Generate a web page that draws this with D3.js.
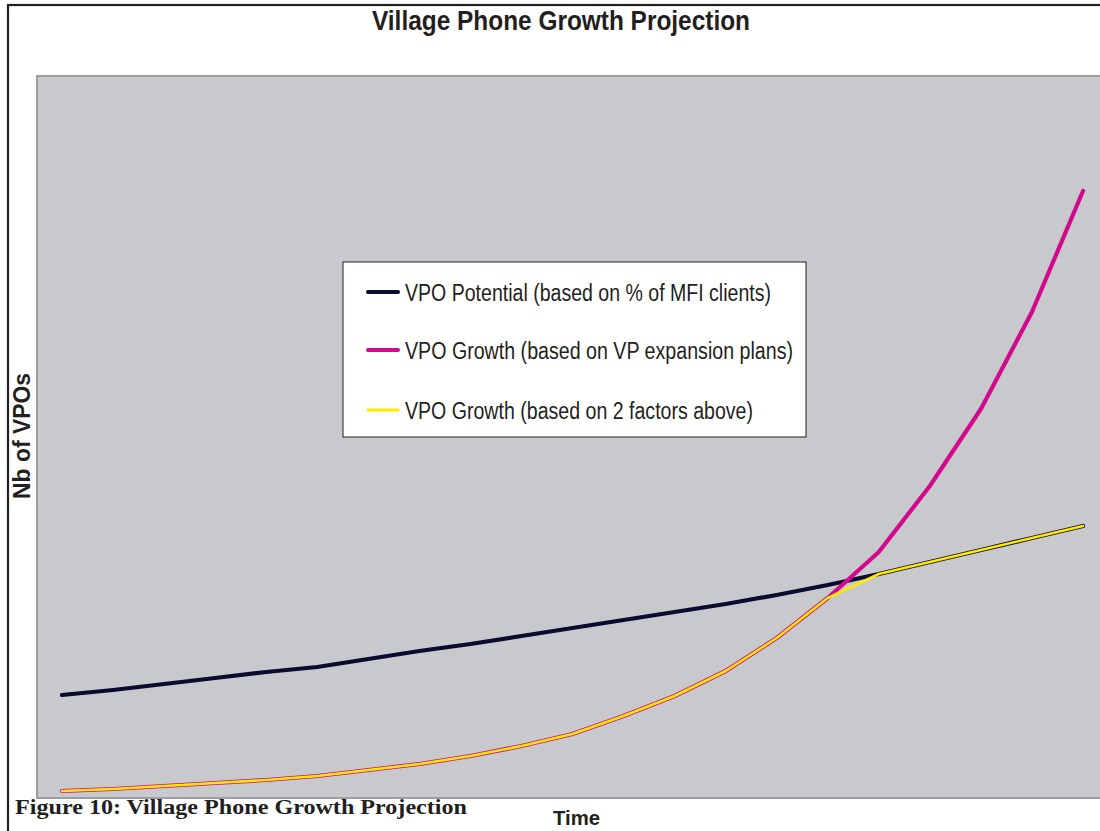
<!DOCTYPE html>
<html>
<head>
<meta charset="utf-8">
<script src="https://cdn.jsdelivr.net/npm/d3@7"></script>
<style>
  html, body { margin: 0; padding: 0; background: #ffffff; }
  svg { display: block; }
</style>
</head>
<body>
<svg id="chart" width="1100" height="831"></svg>
<script>
// ---- Data (y axis has no ticks, arbitrary units) ----
const periods = [1,2,3,4,5,6,7,8,9,10,11,12,13,14,15,16,17,18,19,20,21];
const potential = [1030,1080,1140,1200,1260,1310,1390,1470,1540,1620,1700,1780,1860,1940,2030,2130,2240,2360,2480,2600,2720];
const growthPlans = [70,90,120,150,180,220,280,340,420,520,640,820,1020,1270,1600,2000,2460,3120,3890,4860,6070];
const growthBoth = [70,90,120,150,180,220,280,340,420,520,640,820,1020,1270,1600,2000,2240,2360,2480,2600,2720];
const seriesNames = [
  "VPO Potential (based on % of MFI clients)",
  "VPO Growth (based on VP expansion plans)",
  "VPO Growth (based on 2 factors above)"
];
const titleText = "Village Phone Growth Projection";
const yLabel = "Nb of VPOs";
const xLabel = "Time";
const caption = "Figure 10: Village Phone Growth Projection";
const yMax = 7220;

const svg = d3.select("#chart");

// outer frame
svg.append("rect").attr("x", 8).attr("y", 5).attr("width", 1120).attr("height", 860)
  .attr("fill", "none").attr("stroke", "#231f20").attr("stroke-width", 2.2);

// plot area
const plot = {left: 37, top: 76, right: 1112, bottom: 798};
svg.append("rect").attr("x", plot.left).attr("y", plot.top)
  .attr("width", plot.right - plot.left).attr("height", plot.bottom - plot.top)
  .attr("fill", "#c8c9cd").attr("stroke", "#9d9ea2").attr("stroke-width", 2);

const x = d3.scaleLinear().domain([periods[0], periods[periods.length-1]]).range([62, 1083]);
const y = d3.scaleLinear().domain([0, yMax]).range([plot.bottom, plot.top]);

const line = d3.line().x((d, i) => x(periods[i])).y(d => y(d)).curve(d3.curveLinear);

svg.append("path").datum(potential).attr("d", line)
  .attr("fill", "none").attr("stroke", "#0b0a30").attr("stroke-width", 4.2)
  .attr("stroke-linejoin", "round").attr("stroke-linecap", "round");
svg.append("path").datum(growthPlans).attr("d", line)
  .attr("fill", "none").attr("stroke", "#d2098c").attr("stroke-width", 4.2)
  .attr("stroke-linejoin", "round").attr("stroke-linecap", "round");
svg.append("path").datum(growthBoth).attr("d", line)
  .attr("fill", "none").attr("stroke", "#ffe900").attr("stroke-width", 2.6)
  .attr("stroke-linejoin", "round").attr("stroke-linecap", "round");

// legend
const lg = svg.append("g");
lg.append("rect").attr("x", 343).attr("y", 262).attr("width", 463).attr("height", 175)
  .attr("fill", "#ffffff").attr("stroke", "#231f20").attr("stroke-width", 1);
const legColors = ["#0b0a30", "#d2098c", "#ffe900"];
const legWidths = [4, 4, 3];
const legY = [292, 350, 410];
const legTextLen = [366, 388, 348];
seriesNames.forEach((name, i) => {
  lg.append("line").attr("x1", 368).attr("x2", 398).attr("y1", legY[i]).attr("y2", legY[i])
    .attr("stroke", legColors[i]).attr("stroke-width", legWidths[i]).attr("stroke-linecap", "round");
  lg.append("text").attr("x", 405).attr("y", legY[i] + 9)
    .attr("font-family", "Liberation Sans, Arial, sans-serif").attr("font-size", 23)
    .attr("fill", "#231f20")
    .attr("textLength", legTextLen[i]).attr("lengthAdjust", "spacingAndGlyphs")
    .text(name);
});

// title
svg.append("text").attr("x", 372).attr("y", 30)
  .attr("font-family", "Liberation Sans, Arial, sans-serif").attr("font-weight", "bold")
  .attr("font-size", 27).attr("fill", "#231f20")
  .attr("textLength", 378).attr("lengthAdjust", "spacingAndGlyphs")
  .text(titleText);

// y label
svg.append("text").attr("transform", "translate(30,499) rotate(-90)")
  .attr("font-family", "Liberation Sans, Arial, sans-serif").attr("font-weight", "bold")
  .attr("font-size", 24).attr("fill", "#231f20")
  .attr("textLength", 126).attr("lengthAdjust", "spacingAndGlyphs")
  .text(yLabel);

// x label
svg.append("text").attr("x", 553).attr("y", 825)
  .attr("font-family", "Liberation Sans, Arial, sans-serif").attr("font-weight", "bold")
  .attr("font-size", 21).attr("fill", "#231f20")
  .attr("textLength", 47).attr("lengthAdjust", "spacingAndGlyphs")
  .text(xLabel);

// caption
svg.append("text").attr("x", 15).attr("y", 814)
  .attr("font-family", "Liberation Serif, Times New Roman, serif").attr("font-weight", "bold")
  .attr("font-size", 20).attr("fill", "#231f20")
  .attr("textLength", 452).attr("lengthAdjust", "spacingAndGlyphs")
  .text(caption);
</script>
</body>
</html>
